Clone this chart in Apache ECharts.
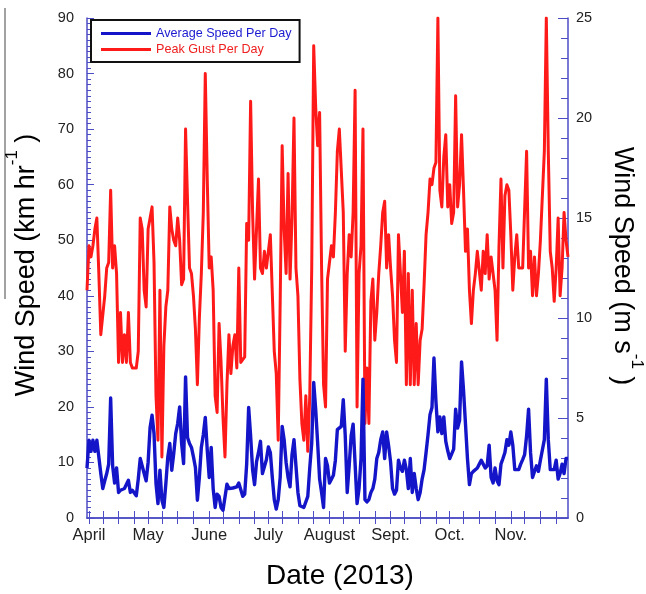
<!DOCTYPE html>
<html><head><meta charset="utf-8">
<script src="https://cdn.jsdelivr.net/npm/echarts@6/dist/echarts.min.js"></script>
<style>html,body{margin:0;padding:0;background:#fff}#c{width:646px;height:594px}</style>
</head><body><div id="c"></div>
<script>
// ---- data ----
const firstDay = [2013, 2, 31];   // 31 Mar 2013
const lastDay = [2013, 10, 30];   // 30 Nov 2013
const monthLabels = {4:'April',5:'May',6:'June',7:'July',8:'August',9:'Sept.',10:'Oct.',11:'Nov.'};
const minorTickDays = [1, 8, 16, 24];

const avgSpeed = [
 9,14,12,14,12,14,11,8,5.3,6.7,
 8,9.7,21.6,9.4,6.3,9,4.6,5,5,5.3,
 5.5,6.8,4.6,5,5,4,7,10.7,10.9,8,
 6.7,10,16.3,18.5,15.2,6.2,2.6,8.6,3.2,1.9,
 6.2,11,13.4,8.6,11.6,15.2,17,20,13.4,9.8,
 25.4,14.5,13.4,12.7,11,9.1,3.2,7.3,12.7,15,
 18.1,12.2,7.3,12.7,5.3,1.9,4.3,3.9,1.9,1.4,
 1.6,6.1,5.3,5.5,5.4,5.3,5.6,6.3,6.1,3.9,
 4.3,9.7,19.9,14.8,8.7,6,10.1,11.8,13.8,8,
 7.7,10.5,12.8,11.8,7.3,3.3,1.6,3.3,7.3,16.5,
 14.1,10,7.3,5.6,11.4,14.1,9.4,4.6,2.2,1.9,
 1.9,1.9,3.9,9,13.5,24.4,19.6,13.5,7,4.6,
 1.9,10.7,9.4,6.3,7,7.7,10.4,15.9,16.2,16.5,
 21.3,14.8,4.6,9.4,14.8,16.9,17.2,2.6,5.3,10.7,
 25,3.3,2.9,3.3,4.6,5.3,7,10.7,11.8,14.1,
 15.5,10.7,15.5,13,10.1,5.3,4.3,5,10.4,9,
 8.4,10.4,8.7,5.3,10.7,4.6,8,5.3,3.3,4.6,
 7,8.7,11.8,15,18.6,19.9,28.8,21,15.5,18.2,
 15.2,18.2,13.8,12.1,10.7,10.7,12.4,19.6,16.2,17.6,
 28.1,23,16.9,10.7,6,8,8.4,8.4,9,9.7,
 10.4,9.7,9,9.4,13.1,7.3,6.3,9,6.7,6,
 9.7,10.7,11.8,14.1,13.1,15.5,13.1,8.7,8.7,8.7,
 9.7,10.5,11.4,14.8,19.6,11.8,7.3,7,9.4,8.4,
 10.4,10.4,14.1,25,14.1,8.7,8.4,8.7,10.4,7,
 8,9.7,8,10.7,10.7
];
const peakGust = [
 41,49,47,49,52,54,44,33,33,40,
 45,46,59,45,49,44,28,37,28,33,
 28,37,28,27,27,27,30,54,52,41,
 38,52,54,56,46,22,14,41,11,31,
 38,41,56,52,50,49,54,50,42,43,
 70,57,45,44,40,34,24,36,44,55,
 80,61,45,47,41,22,19,35,28,18,
 11,24,33,26,31,33,27,45,28,28,
 29,53,50,75,55,43,52,61,45,44,
 48,45,48,51,51,30,26,14,39,67,
 52,44,62,43,54,72,45,40,25,17,
 14,22,12,22,45,85,74,67,73,45,
 24,20,43,43,49,47,55,66,70,70,
 55,30,44,51,47,55,77,20,44,49,
 70,17,27,17,39,43,32,37,44,49,
 55,57,45,51,45,40,32,28,51,44,
 37,48,24,44,24,41,24,35,24,32,
 34,42,51,55,61,60,63,64,90,59,
 56,65,69,56,60,53,55,76,56,60,
 69,59,48,52,41,35,41,44,48,48,
 41,48,44,51,43,47,47,41,32,49,
 61,45,58,60,59,51,41,47,51,45,
 45,45,45,66,45,48,40,47,40,44,
 50,50,66,90,66,48,45,39,45,54,
 40,45,55,50,47
];

// ---- categories (one per day) ----
const categories = [];
for (let d = new Date(Date.UTC(...firstDay)); d <= new Date(Date.UTC(...lastDay)); d.setUTCDate(d.getUTCDate() + 1)) {
  categories.push(d.toISOString().slice(0, 10));
}

const FONT = '"Liberation Sans", Arial, Helvetica, sans-serif';
const FRAME = '#4c4cc4';
const isMonthStart = (v) => { const p = v.split('-'); return +p[2] === 1 && monthLabels[+p[1]] !== undefined; };
const isMinorDay = (v) => minorTickDays.indexOf(+v.split('-')[2]) >= 0;

function measure(txt, size) {
  const c = document.createElement('canvas').getContext('2d');
  c.font = size + 'px ' + FONT;
  return c.measureText(txt).width;
}
function sideTitle(cx, cy, rot, main, sup, tail) {
  const fm = 27, fs = 17;
  const w1 = measure(main, fm), w2 = measure(sup, fs), w3 = measure(tail, fm);
  const x0 = -(w1 + w2 + w3) / 2;
  const st = (t, s) => ({ text: t, font: s + 'px ' + FONT, fill: '#000', align: 'left', verticalAlign: 'middle' });
  return { type: 'group', x: cx, y: cy, rotation: rot, children: [
    { type: 'text', x: x0, y: 0, style: st(main, fm) },
    { type: 'text', x: x0 + w1, y: -15, style: st(sup, fs) },
    { type: 'text', x: x0 + w1 + w2, y: 0, style: st(tail, fm) }
  ]};
}

const chart = echarts.init(document.getElementById('c'), null, { renderer: 'canvas' });
const baseX = {
  type: 'category', data: categories, boundaryGap: false,
  axisLine: { show: true, lineStyle: { color: FRAME, width: 1.5 } },
  splitLine: { show: false }
};
chart.setOption({
  backgroundColor: '#fff',
  animation: false,
  textStyle: { fontFamily: FONT },
  grid: { left: 87, right: 78, top: 18, bottom: 76, containLabel: false },
  legend: {
    left: 91, top: 20, orient: 'vertical', icon: 'rect',
    itemWidth: 50, itemHeight: 3, itemGap: 3,
    padding: [7, 8, 6, 10],
    borderColor: '#111', borderWidth: 2, backgroundColor: '#fff',
    textStyle: { fontSize: 12.6, fontFamily: FONT },
    data: [
      { name: 'Average Speed Per Day', textStyle: { color: '#1a1ad0' } },
      { name: 'Peak Gust Per Day', textStyle: { color: '#ee2020' } }
    ],
    z: 10
  },
  xAxis: [
    Object.assign({}, baseX, {
      position: 'bottom',
      axisTick: { show: true, inside: true, length: 7, interval: (i, v) => isMinorDay(v), lineStyle: { color: FRAME } },
      axisLabel: { show: true, interval: (i, v) => isMonthStart(v), formatter: (v) => monthLabels[+v.split('-')[1]],
        fontSize: 16.5, color: '#222', margin: 9, fontFamily: FONT }
    }),
    Object.assign({}, baseX, {
      position: 'top',
      axisTick: { show: true, inside: true, length: 6, interval: (i, v) => isMinorDay(v), lineStyle: { color: FRAME } },
      axisLabel: { show: false }
    })
  ],
  yAxis: [
    {
      type: 'value', position: 'left', min: 0, max: 90, interval: 10,
      axisLine: { show: true, lineStyle: { color: FRAME, width: 1.5 } },
      axisTick: { show: true, inside: true, length: 7, lineStyle: { color: FRAME } },
      minorTick: { show: true, splitNumber: 10, length: 4, lineStyle: { color: FRAME } },
      splitLine: { show: false },
      axisLabel: { fontSize: 14.5, color: '#222', margin: 13, fontFamily: FONT }
    },
    {
      type: 'value', position: 'right', min: 0, max: 25, interval: 5,
      axisLine: { show: true, lineStyle: { color: FRAME, width: 1.5 } },
      axisTick: { show: true, inside: true, length: 10, lineStyle: { color: FRAME } },
      minorTick: { show: true, splitNumber: 5, length: 7, lineStyle: { color: FRAME } },
      splitLine: { show: false },
      axisLabel: { fontSize: 14.5, color: '#222', margin: 8, fontFamily: FONT }
    }
  ],
  series: [
    { name: 'Average Speed Per Day', type: 'line', xAxisIndex: 0, yAxisIndex: 0, data: avgSpeed,
      showSymbol: false, symbol: 'none', color: '#1414c8', lineStyle: { color: '#1414c8', width: 3.4, join: 'round' }, z: 3 },
    { name: 'Peak Gust Per Day', type: 'line', xAxisIndex: 0, yAxisIndex: 0, data: peakGust,
      showSymbol: false, symbol: 'none', color: '#ff1a1a', lineStyle: { color: '#ff1a1a', width: 3, join: 'round' }, z: 2 }
  ],
  graphic: [
    { type: 'line', shape: { x1: 5, y1: 8, x2: 5, y2: 299 }, style: { stroke: '#444', lineWidth: 1 } },
    sideTitle(27, 265, Math.PI / 2, 'Wind Speed (km hr', '-1', ' )'),
    sideTitle(622, 266, -Math.PI / 2, 'Wind Speed (m s', '-1', ' )'),
    { type: 'text', x: 340, y: 576, style: { text: 'Date (2013)', font: '28px ' + FONT, fill: '#000', align: 'center', verticalAlign: 'middle' } }
  ]
});
</script>
</body></html>
